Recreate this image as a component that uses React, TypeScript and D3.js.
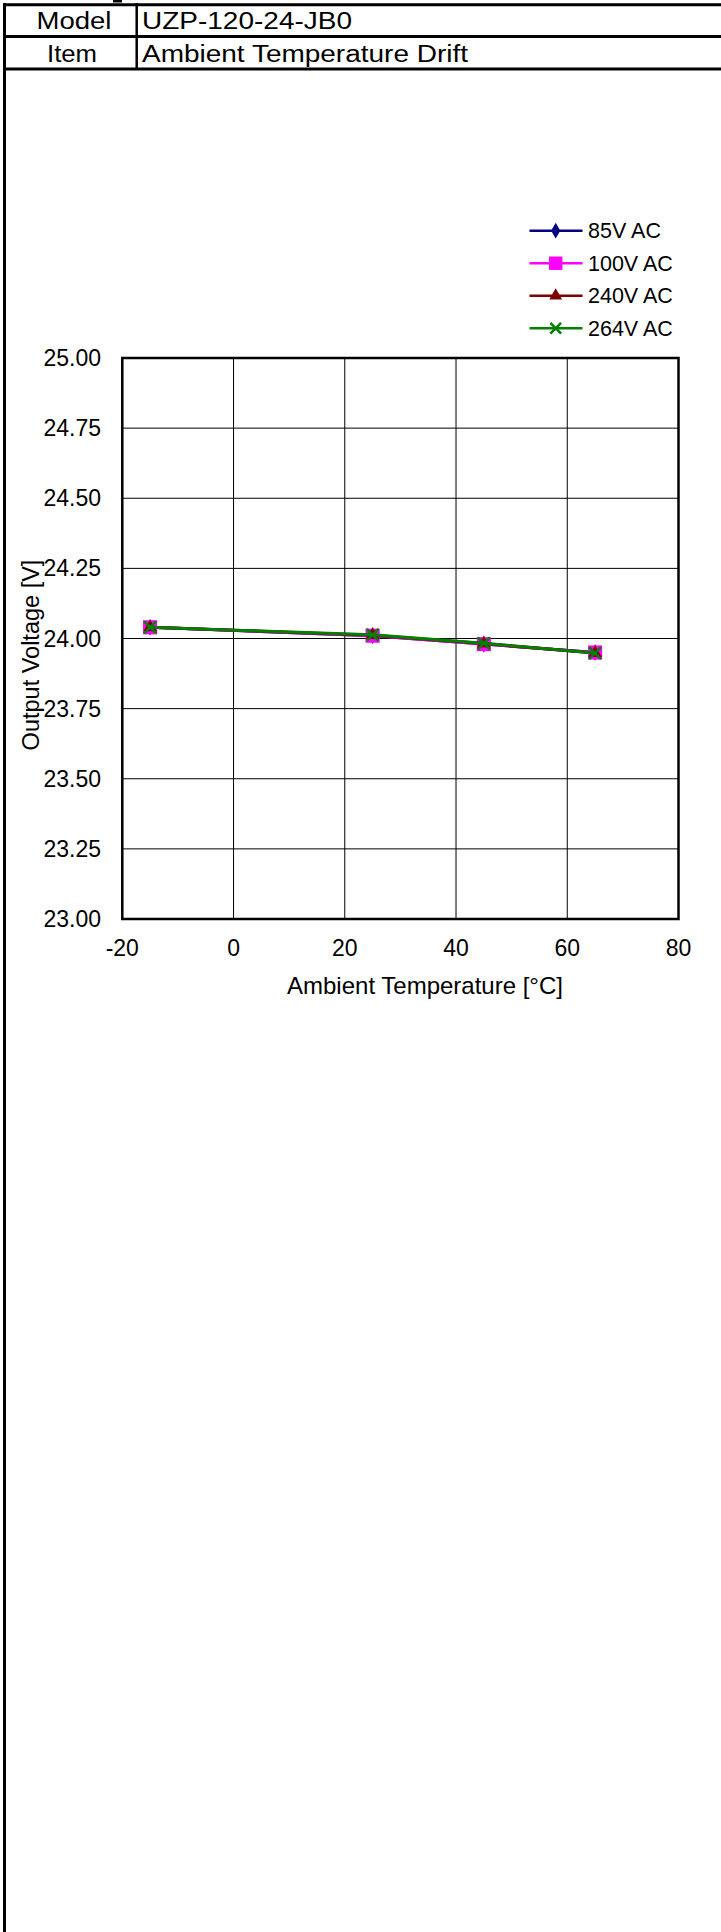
import { useEffect, useRef } from 'react';
import * as d3 from 'd3';

// header table
const headerLabels = ['Model', 'Item'];
const headerValues = ['UZP-120-24-JB0', 'Ambient Temperature Drift'];

// chart data
const temps = [-15, 25, 45, 65];
const seriesNames = ['85V AC', '100V AC', '240V AC', '264V AC'];
const v85 = [24.04, 24.01, 23.98, 23.95];
const v100 = [24.04, 24.01, 23.98, 23.95];
const v240 = [24.04, 24.012, 23.982, 23.948];
const v264 = [24.04, 24.013, 23.983, 23.948];
const xTicks = [-20, 0, 20, 40, 60, 80];
const yTicks = [23.0, 23.25, 23.5, 23.75, 24.0, 24.25, 24.5, 24.75, 25.0];

const colors = ['#000080', '#ff00ff', '#800000', '#008000'];
const shapes = ['diamond', 'square', 'triangle', 'x'];

const FONT = '"Liberation Sans", Arial, sans-serif';

function App() {
  const svgRef = useRef<SVGSVGElement>(null);

  const width = 721,
    height = 1932;

  useEffect(() => {
    const svg = d3.select(svgRef.current);
    svg.selectAll('*').remove();

    svg.append('rect').attr('width', width).attr('height', height).attr('fill', '#fff');

    // ---- header table ----
    const t = svg.append('g');
    [4.7, 36.5, 69].forEach((y) => {
      t.append('line')
        .attr('x1', 3)
        .attr('x2', width)
        .attr('y1', y)
        .attr('y2', y)
        .attr('stroke', '#000')
        .attr('stroke-width', 3);
    });
    t.append('line')
      .attr('x1', 4.5)
      .attr('x2', 4.5)
      .attr('y1', 3)
      .attr('y2', height)
      .attr('stroke', '#000')
      .attr('stroke-width', 3);
    t.append('line')
      .attr('x1', 136.7)
      .attr('x2', 136.7)
      .attr('y1', 3)
      .attr('y2', 69)
      .attr('stroke', '#000')
      .attr('stroke-width', 2.5);
    // cut-off glyph at the very top
    t.append('rect').attr('x', 113).attr('y', 0).attr('width', 9).attr('height', 2.5).attr('fill', '#000');

    const labelCfg = [
      { x: 74, len: 75 },
      { x: 72, len: 50 },
    ];
    const valueLen = [210, 326];
    const baselines = [29, 62];
    headerLabels.forEach((s, i) => {
      t.append('text')
        .text(s)
        .attr('x', labelCfg[i].x)
        .attr('y', baselines[i])
        .attr('text-anchor', 'middle')
        .attr('textLength', labelCfg[i].len)
        .attr('lengthAdjust', 'spacingAndGlyphs')
        .style('font-family', FONT)
        .style('font-size', '23px');
    });
    headerValues.forEach((s, i) => {
      t.append('text')
        .text(s)
        .attr('x', 142)
        .attr('y', baselines[i])
        .attr('textLength', valueLen[i])
        .attr('lengthAdjust', 'spacingAndGlyphs')
        .style('font-family', FONT)
        .style('font-size', '23px');
    });

    // ---- chart ----
    const x = d3.scaleLinear().domain([-20, 80]).range([122.3, 678.5]);
    const y = d3.scaleLinear().domain([23, 25]).range([919, 358]);

    const g = svg.append('g');

    g.selectAll('line.vgrid')
      .data(xTicks.slice(1, -1))
      .join('line')
      .attr('x1', (d) => x(d))
      .attr('x2', (d) => x(d))
      .attr('y1', y(23))
      .attr('y2', y(25))
      .attr('stroke', '#000')
      .attr('stroke-width', 1);

    g.selectAll('line.hgrid')
      .data(yTicks.slice(1, -1))
      .join('line')
      .attr('x1', x(-20))
      .attr('x2', x(80))
      .attr('y1', (d) => y(d))
      .attr('y2', (d) => y(d))
      .attr('stroke', '#000')
      .attr('stroke-width', 1);

    g.append('rect')
      .attr('x', x(-20))
      .attr('y', y(25))
      .attr('width', x(80) - x(-20))
      .attr('height', y(23) - y(25))
      .attr('fill', 'none')
      .attr('stroke', '#000')
      .attr('stroke-width', 2.5);

    g.selectAll('text.ytick')
      .data(yTicks)
      .join('text')
      .text((d) => d3.format('.2f')(d))
      .attr('x', 101)
      .attr('y', (d) => y(d))
      .attr('dy', '0.35em')
      .attr('text-anchor', 'end')
      .style('font-family', FONT)
      .style('font-size', '23px');

    g.selectAll('text.xtick')
      .data(xTicks)
      .join('text')
      .text((d) => String(d))
      .attr('x', (d) => x(d))
      .attr('y', 956)
      .attr('text-anchor', 'middle')
      .style('font-family', FONT)
      .style('font-size', '23px');

    g.append('text')
      .text('Ambient Temperature [°C]')
      .attr('x', 425)
      .attr('y', 994)
      .attr('text-anchor', 'middle')
      .style('font-family', FONT)
      .style('font-size', '24px');

    g.append('text')
      .text('Output Voltage [V]')
      .attr('transform', 'translate(39,655) rotate(-90)')
      .attr('text-anchor', 'middle')
      .style('font-family', FONT)
      .style('font-size', '23.5px');

    const markerPath = (shape: string, big: boolean) => {
      const k = big ? 1 : 0.9;
      if (shape === 'diamond') return d3.symbol(d3.symbolDiamond, 80 * k)();
      if (shape === 'square') return d3.symbol(d3.symbolSquare, 200 * k)();
      if (shape === 'triangle') return d3.symbol(d3.symbolTriangle, 80 * k)();
      const s = 6 * k;
      return `M${-s},${-s}L${s},${s}M${-s},${s}L${s},${-s}`;
    };

    const drawMarker = (sel: any, shape: string, color: string, cx: number, cy: number, big: boolean) => {
      const p = sel
        .append('path')
        .attr('d', markerPath(shape, big))
        .attr('transform', `translate(${cx},${cy})`);
      if (shape === 'x') {
        p.attr('fill', 'none').attr('stroke', color).attr('stroke-width', 2.5);
      } else {
        p.attr('fill', color).attr('stroke', 'none');
      }
    };

    const allSeries = [v85, v100, v240, v264];
    const line = d3
      .line<number>()
      .x((_, i) => x(temps[i]))
      .y((d) => y(d));

    allSeries.forEach((vals, si) => {
      const sg = g.append('g');
      sg.append('path')
        .attr('d', line(vals))
        .attr('fill', 'none')
        .attr('stroke', colors[si])
        .attr('stroke-width', 3);
      vals.forEach((v, i) => drawMarker(sg, shapes[si], colors[si], x(temps[i]), y(v), true));
    });

    // ---- legend ----
    const lg = svg.append('g');
    const legY = d3.scalePoint<string>().domain(seriesNames).range([230.7, 328.3]);
    seriesNames.forEach((name, si) => {
      const yy = legY(name) as number;
      lg.append('line')
        .attr('x1', 529.5)
        .attr('x2', 582.5)
        .attr('y1', yy)
        .attr('y2', yy)
        .attr('stroke', colors[si])
        .attr('stroke-width', 2.5);
      drawMarker(lg, shapes[si], colors[si], 555.7, yy, false);
      lg.append('text')
        .text(name)
        .attr('x', 588)
        .attr('y', yy)
        .attr('dy', '0.35em')
        .style('font-family', FONT)
        .style('font-size', '21.5px');
    });
  }, []);

  return (
    <svg
      xmlns="http://www.w3.org/2000/svg"
      width={width}
      height={height}
      viewBox={`0 0 ${width} ${height}`}
      ref={svgRef}
      style={{ position: 'absolute', left: 0, top: 0, display: 'block' }}
    ></svg>
  );
}

export default App;
